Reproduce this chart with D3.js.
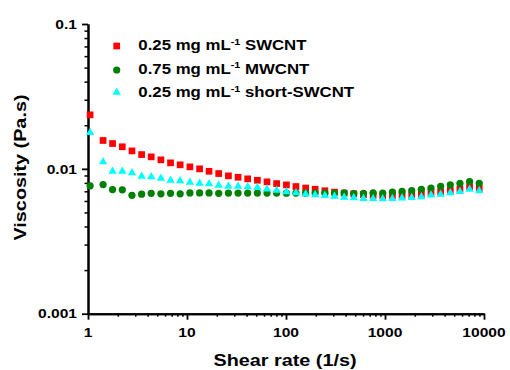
<!DOCTYPE html>
<html>
<head>
<meta charset="utf-8">
<script src="https://cdn.jsdelivr.net/npm/d3@7"></script>
<style>
  html, body { margin: 0; padding: 0; background: #fff; }
  svg { display: block; }
  text { font-family: "Liberation Sans", Arial, sans-serif; font-weight: bold; fill: #000; }
</style>
</head>
<body>
<svg id="chart" width="510" height="370"></svg>
<script>
// Shear rate sweep (1/s)
const shearRate = [1.05, 1.42, 1.77, 2.22, 2.78, 3.48, 4.35, 5.45, 6.82, 8.53,
  10.7, 13.4, 16.7, 20.9, 26.2, 32.8, 41.0, 51.4, 64.3, 80.4,
  101, 126, 158, 197, 247, 309, 387, 484, 606, 759,
  949, 1188, 1487, 1861, 2329, 2915, 3648, 4566, 5714, 7152, 8954];

// Viscosity (Pa.s) for each dispersion
const swcnt = [0.0236, 0.0157, 0.01495, 0.0142, 0.0133, 0.01255, 0.0121, 0.01154, 0.0110, 0.01066,
  0.01032, 0.0100, 0.00962, 0.00928, 0.00895, 0.00875, 0.00853, 0.00834, 0.00813, 0.00791,
  0.00775, 0.00755, 0.00737, 0.00723, 0.00706, 0.00691, 0.00680, 0.00672, 0.00664, 0.00657,
  0.00651, 0.00650, 0.00654, 0.00659, 0.00668, 0.00686, 0.00695, 0.00710, 0.00725, 0.00752, 0.00733];

const mwcnt = [0.00763, 0.00779, 0.00719, 0.00716, 0.00657, 0.00668, 0.00678, 0.00672, 0.00678, 0.00672,
  0.00682, 0.00682, 0.00682, 0.00678, 0.00680, 0.00680, 0.00681, 0.00680, 0.00681, 0.00680,
  0.00679, 0.00680, 0.00681, 0.00680, 0.00679, 0.00680, 0.00682, 0.00675, 0.00678, 0.00682,
  0.00680, 0.00691, 0.00699, 0.00708, 0.00723, 0.00737, 0.00757, 0.00776, 0.00795, 0.00817, 0.00795];

const shortSwcnt = [0.0178, 0.01118, 0.00962, 0.00962, 0.00938, 0.00889, 0.00881, 0.00861, 0.00834, 0.00826,
  0.00808, 0.00795, 0.00788, 0.00770, 0.00758, 0.00758, 0.00751, 0.00743, 0.00725, 0.00710,
  0.00695, 0.00682, 0.00670, 0.00661, 0.00654, 0.00646, 0.00636, 0.00630, 0.00623, 0.00622,
  0.00621, 0.00624, 0.00628, 0.00633, 0.00641, 0.00659, 0.00668, 0.00682, 0.00697, 0.00723, 0.00705];

const legendConc = ["0.25 mg mL", "0.75 mg mL", "0.25 mg mL"];
const legendName = ["SWCNT", "MWCNT", "short-SWCNT"];
const seriesColors = ["#ff0000", "#008000", "#00ffff"];

const xTicks = [1, 10, 100, 1000, 10000];
const xTickLabels = ["1", "10", "100", "1000", "10000"];
const yTicks = [0.001, 0.01, 0.1];
const yTickLabels = ["0.001", "0.01", "0.1"];

const svg = d3.select("#chart");
const plot = { left: 88, right: 484, top: 24, bottom: 313.7 };

const x = d3.scaleLog().domain([1, 10000]).range([plot.left, plot.right]);
const y = d3.scaleLog().domain([0.001, 0.1]).range([plot.bottom, plot.top]);

// Minor ticks at 2..9 of every decade
function minorTicks(lo, hi) {
  const out = [];
  for (let p = lo; p < hi; p *= 10) {
    for (let m = 2; m <= 9; m++) out.push(+(m * p).toPrecision(3));
  }
  return out;
}

// Wide bold text: Arial glyphs stretched along the baseline
const stretch = 1.2;
function wideText(g, tx, ty, rot, size, anchor, str) {
  return g.append("text")
    .attr("transform", `translate(${tx},${ty}) rotate(${rot}) scale(${stretch},1)`)
    .attr("text-anchor", anchor)
    .style("font-size", size + "px")
    .text(str);
}

// Axes
const axisG = svg.append("g");
function styleAxis(g, width) {
  g.selectAll("path.domain").attr("stroke", "#000").attr("stroke-width", 2);
  g.selectAll(".tick line").attr("stroke", "#000").attr("stroke-width", width);
}

const yMinor = axisG.append("g").attr("transform", `translate(${plot.left},0)`)
  .call(d3.axisLeft(y).tickValues(minorTicks(0.001, 0.1)).tickSize(3.5).tickSizeOuter(0).tickFormat(""));
styleAxis(yMinor, 1.5);
const yMajor = axisG.append("g").attr("transform", `translate(${plot.left},0)`)
  .call(d3.axisLeft(y).tickValues(yTicks).tickSize(6).tickSizeOuter(0).tickFormat(""));
styleAxis(yMajor, 1.8);

const xMinor = axisG.append("g").attr("transform", `translate(0,${plot.bottom})`)
  .call(d3.axisBottom(x).tickValues(minorTicks(1, 10000)).tickSize(3).tickSizeOuter(0).tickFormat(""));
styleAxis(xMinor, 1.5);
const xMajor = axisG.append("g").attr("transform", `translate(0,${plot.bottom})`)
  .call(d3.axisBottom(x).tickValues(xTicks).tickSize(6).tickSizeOuter(0).tickFormat(""));
styleAxis(xMajor, 1.8);

// Tick labels
const labelG = svg.append("g");
yTicks.forEach((v, i) => wideText(labelG, 77, y(v) + 4.7, 0, 13, "end", yTickLabels[i]));
xTicks.forEach((v, i) => wideText(labelG, x(v), 336.5, 0, 13, "middle", xTickLabels[i]));

// Axis titles
wideText(labelG, 285, 365.5, 0, 16.5, "middle", "Shear rate (1/s)");
wideText(labelG, 25.5, 167.5, -90, 16.5, "middle", "Viscosity (Pa.s)");

// Markers
const symbols = [
  d3.symbol().type(d3.symbolSquare).size(45),
  d3.symbol().type(d3.symbolCircle).size(41),
  d3.symbol().type(d3.symbolTriangle).size(30)
];
const series = [swcnt, mwcnt, shortSwcnt];

const dataG = svg.append("g");
series.forEach((vals, s) => {
  dataG.append("g").selectAll("path")
    .data(vals.map((v, i) => ({ rate: shearRate[i], visc: v })))
    .join("path")
    .attr("transform", d => `translate(${x(d.rate)},${y(d.visc)})`)
    .attr("d", symbols[s]())
    .attr("fill", seriesColors[s]);
});

// Legend
const legendG = svg.append("g");
const rowBase = [50.3, 73.8, 97.3];
const markerY = [46, 70, 92.4];
series.forEach((_, s) => {
  legendG.append("path")
    .attr("transform", `translate(116.7,${markerY[s]})`)
    .attr("d", symbols[s]())
    .attr("fill", seriesColors[s]);
  const t = legendG.append("text")
    .attr("transform", `translate(138.3,${rowBase[s]}) scale(${stretch},1)`)
    .style("font-size", "14px");
  t.append("tspan").text(legendConc[s]);
  t.append("tspan").attr("dy", -5.5).style("font-size", "9px").text("-1");
  t.append("tspan").attr("dy", 5.5).text(" " + legendName[s]);
});
</script>
</body>
</html>
